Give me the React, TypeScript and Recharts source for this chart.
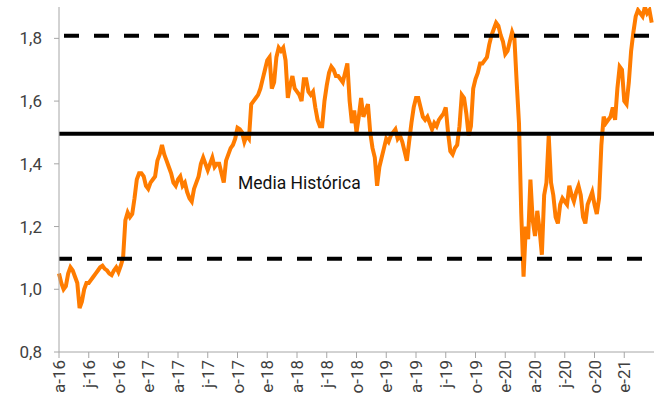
import { CartesianGrid, Line, LineChart, ReferenceLine, XAxis, YAxis } from "recharts"

// weekly values, starting first week of April 2016
const s2016 = [
  1.05, 1.02, 1.0, 1.01, 1.05, 1.07, 1.06, 1.04, 1.02, 0.94, 0.96, 1.0, 1.02, 1.02, 1.03, 1.04, 1.05, 1.06, 1.07, 1.075,
  1.065, 1.06, 1.05, 1.045, 1.06, 1.07, 1.055, 1.075, 1.1, 1.22, 1.245, 1.23, 1.24, 1.29, 1.35, 1.37, 1.37, 1.36, 1.33,
]
const s2017 = [
  1.32, 1.34, 1.35, 1.36, 1.41, 1.43, 1.46, 1.43, 1.41, 1.39, 1.37, 1.34, 1.33, 1.35, 1.36, 1.33, 1.34, 1.31, 1.29, 1.28,
  1.32, 1.34, 1.36, 1.4, 1.42, 1.4, 1.38, 1.4, 1.42, 1.39, 1.4, 1.4, 1.37, 1.34, 1.41, 1.43, 1.45, 1.46, 1.48, 1.515,
  1.51, 1.5, 1.47, 1.49, 1.48, 1.59, 1.6, 1.61, 1.62, 1.64, 1.67, 1.7,
]
const s2018 = [
  1.73, 1.74, 1.64, 1.66, 1.74, 1.77, 1.76, 1.77, 1.73, 1.61, 1.65, 1.68, 1.64, 1.63, 1.62, 1.6, 1.67, 1.67, 1.63, 1.62,
  1.63, 1.58, 1.54, 1.52, 1.52, 1.6, 1.65, 1.69, 1.71, 1.7, 1.68, 1.68, 1.67, 1.66, 1.69, 1.72, 1.6, 1.53, 1.57, 1.5,
  1.55, 1.61, 1.55, 1.57, 1.59, 1.5, 1.45, 1.42, 1.33, 1.39, 1.42, 1.45,
]
const s2019 = [
  1.48, 1.47, 1.49, 1.5, 1.51, 1.48, 1.49, 1.47, 1.44, 1.41, 1.47, 1.53, 1.58, 1.61, 1.61, 1.58, 1.55, 1.54, 1.55, 1.53,
  1.51, 1.53, 1.52, 1.54, 1.55, 1.56, 1.58, 1.5, 1.44, 1.43, 1.45, 1.46, 1.52, 1.62, 1.61, 1.56, 1.49, 1.52, 1.64, 1.67,
  1.69, 1.72, 1.72, 1.73, 1.74, 1.78, 1.81, 1.83, 1.85, 1.84, 1.81, 1.79,
]
const s2020 = [
  1.75, 1.76, 1.79, 1.82, 1.8, 1.66, 1.53, 1.24, 1.04, 1.2, 1.16, 1.35, 1.22, 1.17, 1.25, 1.19, 1.11, 1.3, 1.34, 1.49,
  1.34, 1.3, 1.23, 1.21, 1.27, 1.29, 1.28, 1.27, 1.33, 1.3, 1.28, 1.31, 1.33, 1.3, 1.23, 1.21, 1.27, 1.29, 1.31, 1.27,
  1.24, 1.29, 1.46, 1.55, 1.53, 1.54, 1.55, 1.58, 1.54, 1.64, 1.71, 1.7,
]
const s2021 = [1.6, 1.59, 1.66, 1.76, 1.82, 1.87, 1.89, 1.88, 1.87, 1.9, 1.88, 1.89, 1.85]

const quarterLabels = [
  "a-16", "j-16", "o-16", "e-17", "a-17", "j-17", "o-17", "e-18", "a-18", "j-18",
  "o-18", "e-19", "a-19", "j-19", "o-19", "e-20", "a-20", "j-20", "o-20", "e-21",
]
const yTicks = [0.8, 1.0, 1.2, 1.4, 1.6, 1.8]

const mediaHistorica = 1.496
const bandaSuperior = 1.808
const bandaInferior = 1.097

const values = [...s2016, ...s2017, ...s2018, ...s2019, ...s2020, ...s2021]
const data = values.map((v, i) => ({ w: i, v }))
const quarterTicks = quarterLabels.map((_, i) => i * 13)

const FONT = "Roboto, sans-serif"
const AXIS = "#a6a6a6"

const XTick = ({ x, y, payload }: any) => {
  const label = quarterLabels[Math.round(payload.value / 13)]
  return (
    <text
      x={x}
      y={y}
      transform={`rotate(-90, ${x}, ${y})`}
      textAnchor="end"
      dy="0.36em"
      fontSize={17}
      fontFamily={FONT}
      fill="#404040"
    >
      {label}
    </text>
  )
}

export default function App() {
  return (
    <div style={{ position: "absolute", left: 0, top: 0, width: 660, height: 414, background: "#fff" }}>
      <LineChart width={660} height={414} data={data} margin={{ top: 7, right: 6, bottom: 12, left: 0 }}>
        <CartesianGrid stroke="none" />
        <XAxis
          type="number"
          dataKey="w"
          domain={[0, 260]}
          ticks={quarterTicks}
          interval={0}
          height={50}
          tickSize={6}
          tickMargin={2}
          stroke={AXIS}
          tick={<XTick />}
        />
        <YAxis
          domain={[0.8, 1.9]}
          ticks={yTicks}
          width={59}
          tickSize={5}
          tickMargin={12}
          stroke={AXIS}
          tickFormatter={(v: number) => v.toFixed(1).replace(".", ",")}
          tick={{ fontSize: 17, fontFamily: FONT, fill: "#404040" }}
          allowDataOverflow
        />
        <Line
          type="linear"
          dataKey="v"
          stroke="#ff7c00"
          strokeWidth={4}
          dot={false}
          isAnimationActive={false}
        />
        <ReferenceLine y={bandaSuperior} stroke="#000" strokeWidth={4} strokeDasharray="15 15" strokeDashoffset={25} />
        <ReferenceLine y={mediaHistorica} stroke="#000" strokeWidth={4} />
        <ReferenceLine y={bandaInferior} stroke="#000" strokeWidth={4} strokeDasharray="15 15" strokeDashoffset={2} />
      </LineChart>
      <div
        style={{
          position: "absolute",
          left: 238,
          top: 173,
          fontFamily: FONT,
          fontSize: 17.5,
          color: "#111",
          whiteSpace: "nowrap",
        }}
      >
        Media Histórica
      </div>
    </div>
  )
}
